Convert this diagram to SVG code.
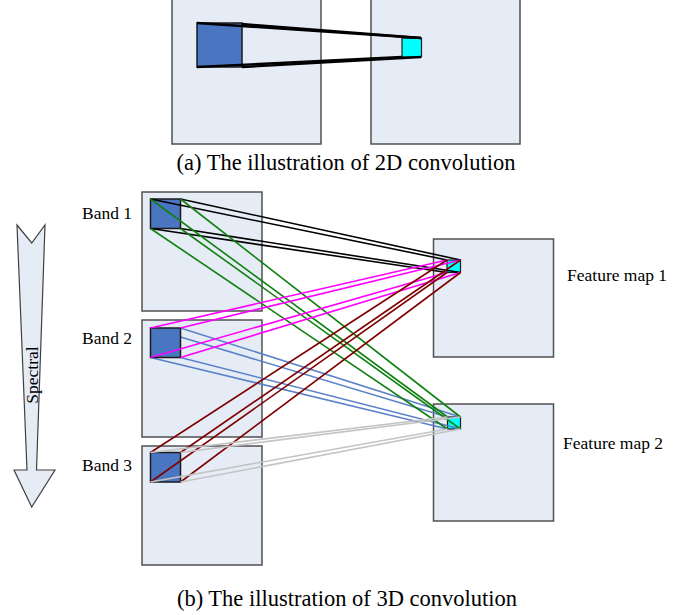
<svg xmlns="http://www.w3.org/2000/svg" width="700" height="615" viewBox="0 0 700 615">
<style>
.panel{fill:#e6ecf6;stroke:#505050;stroke-width:1.5}
.src{fill:#4a75c1;stroke:#1a1a1a;stroke-width:1.5}
.dst{fill:#00ffff;stroke:#1a1a1a;stroke-width:1.2}
.lbl{font-family:"Liberation Serif","Times New Roman",serif;font-size:17.5px;fill:#000}
.cap{font-family:"Liberation Serif","Times New Roman",serif;font-size:22.5px;fill:#000}
.k{stroke:#000;stroke-width:1.6;fill:none}
.g{stroke:#108010;stroke-width:1.6;fill:none}
.m{stroke:#ff00ff;stroke-width:1.6;fill:none}
.b{stroke:#5a82c8;stroke-width:1.6;fill:none}
.r{stroke:#800000;stroke-width:1.6;fill:none}
.y{stroke:#c4c4c4;stroke-width:1.6;fill:none}
.t{stroke:#000;stroke-width:2.4;fill:none}
</style>
<rect width="700" height="615" fill="#fff"/>
<!-- (a) 2D convolution -->
<g id="input2d">
<rect class="panel" x="172" y="-2" width="149" height="146"/>
<rect class="src" x="197" y="23" width="45" height="44"/>
</g>
<g id="output2d">
<rect class="panel" x="371" y="-2" width="149" height="146"/>
<rect class="dst" x="402" y="38" width="19.5" height="19"/>
</g>
<g id="connectors2d">
<line class="t" x1="197" y1="23" x2="421" y2="38"/>
<line class="t" x1="242" y1="24" x2="421" y2="38"/>
<line class="t" x1="197" y1="67" x2="402" y2="57"/>
<line class="t" x1="242" y1="67" x2="421" y2="57"/>
</g>
<text class="cap" x="346" y="170" text-anchor="middle">(a) The illustration of 2D convolution</text>
<!-- (b) 3D convolution -->
<g id="spectral">
<polygon points="17,225 31.7,243 45,225 36.5,470 55,470 31.7,507 14,470 27,470" fill="#e6ecf6" stroke="#404040" stroke-width="1.2"/>
<text class="lbl" transform="translate(38,375) rotate(-90)" text-anchor="middle">Spectral</text>
</g>
<g id="band1">
<rect class="panel" x="142" y="192" width="120" height="119"/>
<rect class="src" x="150.5" y="199" width="30" height="29.5"/>
<text class="lbl" x="82" y="219">Band 1</text>
</g>
<g id="band2">
<rect class="panel" x="142" y="320" width="120" height="117"/>
<text class="lbl" x="82" y="344">Band 2</text>
</g>
<g id="band3">
<rect class="panel" x="142" y="446" width="120" height="119"/>
<rect class="src" x="150.5" y="452.5" width="30" height="29.5"/>
<text class="lbl" x="82" y="471">Band 3</text>
</g>
<g id="fmap1">
<rect class="panel" x="433.5" y="239" width="120" height="118"/>
<rect class="dst" x="447" y="260" width="13.5" height="12.5"/>
<text class="lbl" x="567" y="281">Feature map 1</text>
</g>
<g id="fmap2">
<rect class="panel" x="433.5" y="404" width="120" height="117"/>
<rect class="dst" x="447.5" y="417" width="13" height="12"/>
<text class="lbl" x="563" y="449">Feature map 2</text>
</g>
<g id="connectors-under">
<line class="b" x1="150.5" y1="328" x2="447.5" y2="417"/>
<line class="b" x1="180.5" y1="328" x2="460.5" y2="417"/>
<line class="b" x1="150.5" y1="357.5" x2="447.5" y2="429"/>
<line class="b" x1="180.5" y1="357.5" x2="460.5" y2="429"/>
</g>
<g id="band2-kernel">
<rect class="src" x="150.5" y="328" width="30" height="29.5"/>
</g>
<g id="connectors">
<line class="k" x1="150.5" y1="199" x2="447" y2="260"/>
<line class="k" x1="180.5" y1="199" x2="460.5" y2="260"/>
<line class="k" x1="150.5" y1="228.5" x2="447" y2="272.5"/>
<line class="k" x1="180.5" y1="228.5" x2="460.5" y2="272.5"/>
<line class="g" x1="150.5" y1="199" x2="447.5" y2="417"/>
<line class="g" x1="180.5" y1="199" x2="460.5" y2="417"/>
<line class="g" x1="150.5" y1="228.5" x2="447.5" y2="429"/>
<line class="g" x1="180.5" y1="228.5" x2="460.5" y2="429"/>
<line class="m" x1="150.5" y1="328" x2="447" y2="260"/>
<line class="m" x1="180.5" y1="328" x2="460.5" y2="260"/>
<line class="m" x1="150.5" y1="357.5" x2="447" y2="272.5"/>
<line class="m" x1="180.5" y1="357.5" x2="460.5" y2="272.5"/>
<line class="r" x1="150.5" y1="452.5" x2="447" y2="260"/>
<line class="r" x1="180.5" y1="452.5" x2="460.5" y2="260"/>
<line class="r" x1="150.5" y1="482" x2="447" y2="272.5"/>
<line class="r" x1="180.5" y1="482" x2="460.5" y2="272.5"/>
<line class="y" x1="150.5" y1="452.5" x2="447.5" y2="417"/>
<line class="y" x1="180.5" y1="452.5" x2="460.5" y2="417"/>
<line class="y" x1="150.5" y1="482" x2="447.5" y2="429"/>
<line class="y" x1="180.5" y1="482" x2="460.5" y2="429"/>
</g>
<text class="cap" x="347" y="606" text-anchor="middle">(b) The illustration of 3D convolution</text>
</svg>
